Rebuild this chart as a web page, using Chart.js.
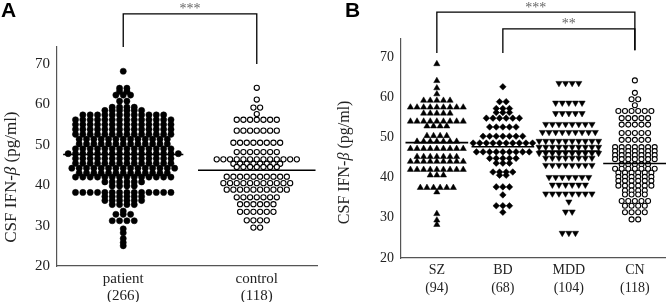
<!DOCTYPE html>
<html>
<head>
<meta charset="utf-8">
<script src="https://cdn.jsdelivr.net/npm/chart.js@4.4.0/dist/chart.umd.min.js"></script>
<style>
  html, body { margin: 0; padding: 0; background: #fff; }
  .panel { position: absolute; top: 0; }
  #panelA { left: 0; width: 330px; height: 302px; }
  #panelB { left: 330px; width: 341px; height: 302px; }
</style>
</head>
<body>
<div class="panel" id="panelA"><canvas id="chartA" width="330" height="302"></canvas></div>
<div class="panel" id="panelB"><canvas id="chartB" width="341" height="302"></canvas></div>
<script>
// eixo y (pg/ml)
const yTicks = [20, 30, 40, 50, 60, 70];

// Painel A - pacientes x controles
const groupsA = ['patient', 'control'];
const nA = ['(266)', '(118)'];
// cada nivel = uma fileira de pontos, counts = quantos pontos na fileira
const patientLevels = [68.2, 64.0, 63.2, 62.3, 60.8, 59.3, 58.5, 57.4, 56.2, 55.0, 53.8, 52.6, 51.4, 50.2, 49.0, 47.8, 46.6, 45.4, 44.2, 43.0, 42.0, 40.8, 39.8, 38.2, 37.2, 36.2, 35.2, 33.6, 32.8, 31.2, 29.2, 28.2, 26.8, 25.8, 25.0];
const patientCounts = [1, 2, 2, 3, 2, 4, 6, 12, 14, 14, 14, 14, 13, 13, 14, 16, 14, 14, 15, 13, 14, 6, 4, 14, 6, 6, 4, 1, 3, 4, 1, 1, 1, 1, 1];
const controlLevels = [64.1, 61.2, 59.2, 57.6, 56.2, 53.5, 50.5, 48.2, 46.4, 45.3, 44.5, 42.1, 40.5, 38.9, 37.0, 35.3, 33.4, 31.3, 29.5];
const controlCounts = [1, 1, 2, 1, 7, 7, 8, 7, 13, 8, 7, 10, 11, 10, 7, 6, 6, 4, 2];
const medianA = [47.6, 43.7];

// Painel B - por diagnostico
const groupsB = ['SZ', 'BD', 'MDD', 'CN'];
const nB = ['(94)', '(68)', '(104)', '(118)'];
const szLevels = [68.3, 64.1, 62.3, 60.8, 59.2, 57.5, 56.0, 54.0, 52.8, 50.4, 49.0, 47.2, 45.2, 44.0, 42.0, 40.6, 37.5, 36.4, 31.0, 29.4, 28.3];
const szCounts = [1, 1, 1, 1, 5, 9, 5, 9, 4, 4, 7, 9, 7, 9, 9, 3, 6, 1, 1, 1, 1];
const bdLevels = [62.6, 58.9, 57.2, 56.2, 54.8, 52.6, 50.3, 48.6, 46.4, 44.8, 43.6, 41.4, 40.6, 37.7, 35.7, 33.0, 31.4];
const bdCounts = [1, 2, 3, 3, 6, 5, 7, 10, 9, 5, 3, 4, 2, 3, 1, 3, 1];
const mddLevels = [63.5, 58.6, 56.0, 53.3, 51.3, 49.1, 47.6, 46.1, 44.9, 43.1, 40.1, 38.2, 36.0, 34.0, 31.5, 26.2];
const mddCounts = [4, 5, 5, 8, 9, 10, 10, 10, 8, 8, 7, 6, 8, 1, 2, 3];
const cnLevels = [64.2, 61.1, 59.5, 58.0, 56.6, 54.8, 53.2, 51.1, 49.4, 47.6, 46.6, 45.6, 44.6, 43.3, 42.2, 41.2, 40.2, 39.2, 38.0, 36.8, 35.8, 34.2, 33.0, 31.4, 29.6];
const cnCounts = [1, 1, 2, 1, 6, 5, 5, 5, 5, 7, 7, 7, 7, 5, 7, 6, 6, 6, 6, 4, 4, 5, 4, 4, 2];
const medianB = [48.7, 47.7, 46.6, 43.5];

const serif = '"Liberation Serif", "Times New Roman", serif';

// espalha cada fileira em volta do centro do grupo
function swarm(center, levels, counts, step) {
    const pts = [];
    levels.forEach((v, i) => {
        const n = counts[i];
        for (let k = 0; k < n; k++) {
            pts.push({ x: center + (k - (n - 1) / 2) * step, y: v });
        }
    });
    return pts;
}

function medianLine(center, value, half) {
    return {
        type: 'line',
        data: [{ x: center - half, y: value }, { x: center + half, y: value }],
        borderColor: '#000',
        borderWidth: 1.6,
        pointRadius: 0,
        showLine: true,
        order: -1
    };
}

function dots(data, style, radius, filled, rotation) {
    return {
        type: 'scatter',
        data: data,
        pointStyle: style,
        pointRadius: radius,
        pointRotation: rotation || 0,
        backgroundColor: filled ? '#000' : '#fff',
        borderColor: '#000',
        borderWidth: filled ? 0.5 : 1.1
    };
}

// titulo do eixo y com beta em italico, letra do painel e colchetes de significancia
const extras = {
    id: 'extras',
    afterDraw(chart, args, opts) {
        const ctx = chart.ctx;
        const xs = chart.scales.x, ys = chart.scales.y;
        ctx.save();
        // letra do painel
        ctx.fillStyle = '#000';
        ctx.font = 'bold 21px "Liberation Sans", Arial, sans-serif';
        ctx.textBaseline = 'top';
        ctx.textAlign = 'left';
        ctx.fillText(opts.letter, opts.letterX, 1);

        // titulo y
        const parts = [['CSF IFN-', ''], ['\u03B2', 'italic '], [' (pg/ml)', '']];
        let total = 0;
        parts.forEach(p => { ctx.font = p[1] + opts.titleSize + 'px ' + serif; total += ctx.measureText(p[0]).width; });
        ctx.translate(opts.titleX, ys.getPixelForValue(opts.titleCenter));
        ctx.rotate(-Math.PI / 2);
        ctx.textBaseline = 'middle';
        ctx.fillStyle = '#222';
        let cx = -total / 2;
        parts.forEach(p => {
            ctx.font = p[1] + opts.titleSize + 'px ' + serif;
            ctx.fillText(p[0], cx, 0);
            cx += ctx.measureText(p[0]).width;
        });
        ctx.setTransform(1, 0, 0, 1, 0, 0);

        // colchetes
        ctx.strokeStyle = '#000';
        ctx.lineWidth = 1.3;
        opts.brackets.forEach(b => {
            const x1 = xs.getPixelForValue(b.from), x2 = xs.getPixelForValue(b.to);
            const yt = ys.getPixelForValue(b.top);
            ctx.beginPath();
            ctx.moveTo(x1, ys.getPixelForValue(b.fromEnd));
            ctx.lineTo(x1, yt);
            ctx.lineTo(x2, yt);
            ctx.lineTo(x2, ys.getPixelForValue(b.toEnd));
            ctx.stroke();
            ctx.fillStyle = '#666';
            ctx.font = '14px ' + serif;
            ctx.textAlign = 'center';
            ctx.textBaseline = 'top';
            ctx.fillText(b.label, (x1 + x2) / 2, ys.getPixelForValue(b.labelY));
        });
        ctx.restore();
    }
};

function makeChart(id, cfg) {
    const tickFont = { family: serif, size: cfg.fontSize };
    return new Chart(document.getElementById(id).getContext('2d'), {
        type: 'scatter',
        data: { datasets: cfg.datasets },
        options: {
            responsive: false,
            animation: false,
            devicePixelRatio: 1,
            events: [],
            layout: { padding: cfg.padding },
            plugins: {
                legend: { display: false },
                tooltip: { enabled: false },
                extras: cfg.extras
            },
            scales: {
                x: {
                    type: 'linear',
                    min: cfg.xMin,
                    max: cfg.xMax,
                    grid: { display: false, drawTicks: false },
                    border: { display: true, color: '#555', width: 1.2 },
                    afterBuildTicks: s => { s.ticks = cfg.groups.map((g, i) => ({ value: i + 1 })); },
                    ticks: {
                        autoSkip: false,
                        maxRotation: 0,
                        padding: cfg.xPad,
                        color: '#222',
                        font: { family: serif, size: cfg.fontSize, lineHeight: cfg.lineHeight },
                        callback: v => {
                            const i = Math.round(v) - 1;
                            return [cfg.groups[i], cfg.ns[i]];
                        }
                    },
                    afterFit: s => { s.height = cfg.xHeight; }
                },
                y: {
                    min: 20,
                    max: cfg.yMax,
                    grid: { display: false, drawTicks: false },
                    border: { display: true, color: '#555', width: 1.2 },
                    afterBuildTicks: s => { s.ticks = yTicks.map(v => ({ value: v })); },
                    ticks: { padding: 7, color: '#222', font: tickFont },
                    afterFit: s => { s.width = cfg.yWidth; }
                }
            }
        },
        plugins: [extras]
    });
}

// Painel A
makeChart('chartA', {
    groups: groupsA, ns: nA, fontSize: 15, lineHeight: 1.15,
    xMin: 0.504, xMax: 2.451, yMax: 74.2,
    padding: { top: 47, right: 13, left: 0, bottom: 0 },
    xHeight: 36, yWidth: 57, xPad: 4,
    datasets: [
        dots(swarm(1, patientLevels, patientCounts, 0.055), 'circle', 3.1, true),
        dots(swarm(2, controlLevels, controlCounts, 0.05), 'circle', 2.6, false),
        medianLine(1, medianA[0], 0.45),
        medianLine(2, medianA[1], 0.44)
    ],
    extras: {
        letter: 'A', letterX: 1, titleSize: 17, titleX: 12, titleCenter: 42,
        brackets: [{ from: 1, to: 2, top: 82.4, fromEnd: 74.2, toEnd: 70, label: '***', labelY: 85.3 }]
    }
});

// Painel B
makeChart('chartB', {
    groups: groupsB, ns: nB, fontSize: 14, lineHeight: 1.3,
    xMin: 0.457, xMax: 4.47, yMax: 74.5,
    padding: { top: 39, right: 4, left: 0, bottom: 0 },
    xHeight: 44, yWidth: 71, xPad: 3,
    datasets: [
        dots(swarm(1, szLevels, szCounts, 0.1), 'triangle', 3.6, true),
        dots(swarm(2, bdLevels, bdCounts, 0.1), 'rectRot', 3.3, true),
        dots(swarm(3, mddLevels, mddCounts, 0.1), 'triangle', 3.6, true, 180),
        dots(swarm(4, cnLevels, cnCounts, 0.1), 'circle', 2.5, false),
        medianLine(1, medianB[0], 0.475),
        medianLine(2, medianB[1], 0.475),
        medianLine(3, medianB[2], 0.475),
        medianLine(4, medianB[3], 0.48)
    ],
    extras: {
        letter: 'B', letterX: 15, titleSize: 16, titleX: 15, titleCenter: 43.8,
        brackets: [
            { from: 1, to: 4, top: 81.2, fromEnd: 71, toEnd: 71.7, label: '***', labelY: 83.9 },
            { from: 2, to: 4, top: 77, fromEnd: 71, toEnd: 71.7, label: '**', labelY: 79.9 }
        ]
    }
});
</script>
</body>
</html>
